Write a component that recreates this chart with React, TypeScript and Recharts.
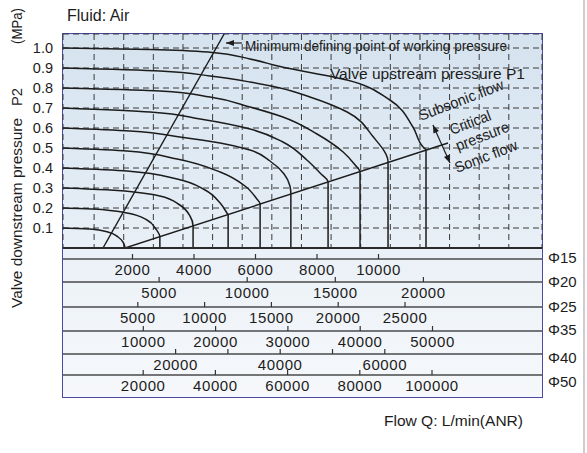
import React from 'react';
import { ComposedChart, Line, XAxis, YAxis, CartesianGrid, ReferenceLine, ReferenceDot } from 'recharts';

// flow on the Φ15 scale (L/min) vs downstream pressure P2 (MPa), one curve per upstream pressure P1
const Q15_MIN = -260;
const Q15_MAX = 15317;
const MAIN_DOMAIN = [Q15_MIN, Q15_MAX];
const P2_DOMAIN = [0, 1.07];
const GRID_DOMAIN = [-0.05, 16.12];

const P1_LEVELS = [0.1, 0.2, 0.3, 0.4, 0.5, 0.6, 0.7, 0.8, 0.9, 1.0];

const curve01 = [[Q15_MIN, 0.1], [620, 0.095], [1200, 0.08], [1530, 0.055], [1690, 0.03], [1760, 0]];
const curve02 = [[Q15_MIN, 0.2], [720, 0.195], [1820, 0.175], [2470, 0.14], [2760, 0.095], [2890, 0.055], [2890, 0]];
const curve03 = [[Q15_MIN, 0.3], [1270, 0.29], [2890, 0.26], [3540, 0.215], [3870, 0.16], [3970, 0.11], [3970, 0]];
const curve04 = [[Q15_MIN, 0.4], [1820, 0.385], [3450, 0.345], [4360, 0.29], [4850, 0.225], [5070, 0.175], [5110, 0.165], [5110, 0]];
const curve05 = [[Q15_MIN, 0.5], [1820, 0.485], [3450, 0.445], [4850, 0.38], [5660, 0.31], [6020, 0.25], [6150, 0.22], [6150, 0]];
const curve06 = [[Q15_MIN, 0.6], [1920, 0.585], [3540, 0.555], [4850, 0.525], [5820, 0.49], [6470, 0.435], [6930, 0.37], [7120, 0.31], [7150, 0.27], [7150, 0]];
const curve07 = [[Q15_MIN, 0.7], [2570, 0.68], [4200, 0.645], [5820, 0.595], [6890, 0.53], [7670, 0.44], [8100, 0.375], [8360, 0.33], [8360, 0]];
const curve08 = [[Q15_MIN, 0.8], [2890, 0.785], [4520, 0.755], [5820, 0.705], [6890, 0.655], [8000, 0.57], [8850, 0.48], [9240, 0.415], [9400, 0.38], [9400, 0]];
const curve09 = [[Q15_MIN, 0.9], [2890, 0.885], [4520, 0.86], [5820, 0.83], [6800, 0.8], [7770, 0.755], [8980, 0.68], [9820, 0.557], [10310, 0.43], [10310, 0]];
const curve10 = [[Q15_MIN, 1.0], [2570, 0.993], [4520, 0.979], [5820, 0.945], [6800, 0.907], [8980, 0.84], [10370, 0.74], [11120, 0.605], [11450, 0.505], [11545, 0.49], [11545, 0]];
const CURVES = [curve01, curve02, curve03, curve04, curve05, curve06, curve07, curve08, curve09, curve10];

const minimumLine = [[1040, 0], [4980, 1.07]];
const criticalLine = [[1760, 0], [12260, 0.525]];

const P2_TICKS = [0.1, 0.2, 0.3, 0.4, 0.5, 0.6, 0.7, 0.8, 0.9, 1.0];
const GRID_TICKS = [1, 2, 3, 4, 5, 6, 7, 8, 9, 10, 11, 12, 13, 14, 15];

// flow scales for each port size
const d15Ticks = [2000, 4000, 6000, 8000, 10000];
const d20Ticks = [5000, 10000, 15000, 20000];
const d25Ticks = [5000, 10000, 15000, 20000, 25000];
const d35Ticks = [10000, 20000, 30000, 40000, 50000];
const d40Ticks = [20000, 30000, 40000, 50000, 60000];
const d40Labels = [20000, 40000, 60000];
const d50Ticks = [20000, 40000, 60000, 80000, 100000];

const SCALES = [
  { id: 'b15', name: 'Φ15', domain: [-260, 15317], ticks: d15Ticks, height: 23, dy: 3.5 },
  { id: 'b20', name: 'Φ20', domain: [-454, 26731], ticks: d20Ticks, height: 25, dy: 4.5 },
  { id: 'b25', name: 'Φ25', domain: [-599, 35254], ticks: d25Ticks, height: 24, dy: 4.5 },
  { id: 'b35', name: 'Φ35', domain: [-1107, 65145], ticks: d35Ticks, height: 23, dy: 3.5 },
  { id: 'b40', name: 'Φ40', domain: [-1530, 90057], ticks: d40Ticks, labels: d40Labels, height: 21, dy: 8.5 },
  { id: 'b50', name: 'Φ50', domain: [-2216, 130471], ticks: d50Ticks, height: 22, dy: 11.5 },
];

// one row per tick index so every axis has values of its own
const CHART_ROWS = GRID_TICKS.map((g, i) => {
  const row: Record<string, number> = { g };
  SCALES.forEach((s) => {
    if (i < s.ticks.length) row[s.id] = s.ticks[i];
  });
  return row;
});

const NOTES = [
  { text: 'Minimum defining point of working pressure', q: 5660, p: 0.985, rot: 0, len: 262 },
  { text: 'Valve upstream pressure P1', q: 8420, p: 0.845, rot: 0, len: 195 },
  { text: 'Subsonic flow', q: 11380, p: 0.635, rot: -21, len: 90 },
  { text: 'Critical', q: 12390, p: 0.565, rot: -21, len: 43 },
  { text: 'pressure', q: 12585, p: 0.485, rot: -21, len: 56 },
  { text: 'Sonic flow', q: 12553, p: 0.375, rot: -21, len: 66 },
];

const ARROWS = [
  { from: [5560, 1.025], to: [5040, 1.025], both: false },
  { from: [11770, 0.615], to: [12325, 0.425], both: true },
];

const FONT = '"Liberation Sans", Arial, sans-serif';
const INK = '#1c1c1c';
const MAIN_LINE = { stroke: '#2a2a2a', strokeWidth: 2 };
const ROW_LINE = { stroke: '#4a4a4a', strokeWidth: 1.3 };
const Y_TICK = { fontSize: 14.5, fill: INK, fontFamily: FONT };

const toPoints = (rows: number[][]) => rows.map(([q, p]) => ({ q, p }));

function makeFlowTick(labels?: number[]) {
  return (props: any) => {
    const { x, y, payload } = props;
    const show = !labels || labels.includes(payload.value);
    return (
      <g>
        <line x1={x} x2={x} y1={y} y2={y - 5} stroke="#333" strokeWidth={1.2} />
        {show && (
          <text x={x} y={y + 16} textAnchor="middle" fontSize={15} letterSpacing={0.6} fill={INK} fontFamily={FONT}>
            {payload.value}
          </text>
        )}
      </g>
    );
  };
}
const FLOW_TICKS = SCALES.map((s) => makeFlowTick(s.labels));
const fmtP2 = (v: number) => v.toFixed(1);

function RowLabel(props: any) {
  const { viewBox, text, shift, title } = props;
  const { x, y, width, height } = viewBox;
  return (
    <g fontFamily={FONT} fill={INK}>
      <text x={x + width + 6} y={y + shift} fontSize={15}>{text}</text>
      {title && <text x={384} y={y + height + 29} fontSize={15.5} textLength={139} lengthAdjust="spacingAndGlyphs">{title}</text>}
    </g>
  );
}

function AxisTitle(props: any) {
  const { viewBox } = props;
  const bx = viewBox.x + 21.5;
  const parts = [
    { t: 'Valve downstream pressure', y: 308, len: 190 },
    { t: 'P2', y: 106, len: 18 },
    { t: '(MPa)', y: 44, len: 36 },
  ];
  return (
    <g fontFamily={FONT} fill={INK} fontSize={15.5}>
      {parts.map((s) => (
        <text key={s.t} x={bx} y={s.y} transform={`rotate(-90 ${bx} ${s.y})`} textLength={s.len} lengthAdjust="spacingAndGlyphs">
          {s.t}
        </text>
      ))}
      <text x={67} y={21} fontSize={16}>Fluid: Air</text>
    </g>
  );
}

function NoteText(props: any) {
  const { viewBox, text, rot, len } = props;
  const { x, y } = viewBox;
  return (
    <text x={x} y={y} transform={`rotate(${rot} ${x} ${y})`} fontSize={15} fill={INK} fontFamily={FONT}
      textLength={len} lengthAdjust="spacingAndGlyphs">
      {text}
    </text>
  );
}

function ArrowShape(props: any) {
  const { x1, y1, x2, y2, both } = props;
  const head = (tx: number, ty: number, fx: number, fy: number) => {
    const dx = tx - fx;
    const dy = ty - fy;
    const l = Math.hypot(dx, dy) || 1;
    const ux = dx / l;
    const uy = dy / l;
    const bx = tx - ux * 8;
    const by = ty - uy * 8;
    return `${tx},${ty} ${bx - uy * 3},${by + ux * 3} ${bx + uy * 3},${by - ux * 3}`;
  };
  return (
    <g>
      <line x1={x1} y1={y1} x2={x2} y2={y2} stroke={INK} strokeWidth={1.2} />
      <polygon points={head(x2, y2, x1, y1)} fill={INK} />
      {both && <polygon points={head(x1, y1, x2, y2)} fill={INK} />}
    </g>
  );
}

export default function App() {
  return (
    <div style={{ position: 'absolute', left: 0, top: 0, width: 587, height: 453, background: '#fff', fontFamily: FONT }}>
      <div
        style={{
          position: 'absolute', left: 62, top: 33, width: 481, height: 365, boxSizing: 'border-box',
          border: '1.5px solid #4a4aa6',
          background: 'linear-gradient(to bottom, #d5e3ef 0%, #e3ecf5 45%, #eef3f8 70%, #f6f8fb 100%)',
        }}
      />
      <div style={{ position: 'absolute', left: 583, top: 0, width: 2, height: 453, background: '#cdcdcd' }} />
      <div style={{ position: 'absolute', left: 0, top: 0 }}>
        <ComposedChart width={587} height={453} data={CHART_ROWS} margin={{ top: 34, right: 45, bottom: 56, left: 0 }}>
          <XAxis
            xAxisId="a0" type="number" dataKey="q" domain={MAIN_DOMAIN} allowDataOverflow
            height={11} tick={false} tickLine={false} axisLine={MAIN_LINE}
          />
          {SCALES.map((s, i) => (
            <XAxis
              key={s.id} xAxisId={s.id} dataKey={s.id} type="number" domain={s.domain} ticks={s.ticks} allowDataOverflow
              height={s.height} interval={0} tickSize={0} tickMargin={0} tickLine={false}
              axisLine={ROW_LINE}
              tick={FLOW_TICKS[i]}
              label={<RowLabel text={s.name} shift={s.dy} title={s.id === 'b50' ? 'Flow Q: L/min(ANR)' : undefined} />}
            />
          ))}
          <XAxis xAxisId="grid" dataKey="g" type="number" domain={GRID_DOMAIN} ticks={GRID_TICKS} allowDataOverflow hide />
          <YAxis
            type="number" domain={P2_DOMAIN} ticks={P2_TICKS} allowDataOverflow width={63} interval={0}
            axisLine={false} tickLine={false} tickMargin={4}
            tickFormatter={fmtP2}
            tick={Y_TICK}
            label={<AxisTitle />}
          />
          <CartesianGrid xAxisId="grid" stroke="#3a3a3a" strokeDasharray="6 4" strokeWidth={1} />

          {CURVES.map((c, i) => (
            <Line
              key={P1_LEVELS[i]} xAxisId="a0" data={toPoints(c)} dataKey="p" type="monotoneY"
              stroke={INK} strokeWidth={1.5} dot={false} activeDot={false} isAnimationActive={false}
            />
          ))}
          <Line xAxisId="a0" data={toPoints(minimumLine)} dataKey="p" type="linear" stroke={INK} strokeWidth={1.4} dot={false} activeDot={false} isAnimationActive={false} />
          <Line xAxisId="a0" data={toPoints(criticalLine)} dataKey="p" type="linear" stroke={INK} strokeWidth={1.4} dot={false} activeDot={false} isAnimationActive={false} />

          {ARROWS.map((a, i) => (
            <ReferenceLine
              key={i} xAxisId="a0" ifOverflow="visible"
              segment={[{ x: a.from[0], y: a.from[1] }, { x: a.to[0], y: a.to[1] }]}
              shape={<ArrowShape both={a.both} />}
            />
          ))}
          {NOTES.map((n) => (
            <ReferenceDot
              key={n.text} xAxisId="a0" x={n.q} y={n.p} r={0} ifOverflow="visible" stroke="none" fill="none"
              label={<NoteText text={n.text} rot={n.rot} len={n.len} />}
            />
          ))}
        </ComposedChart>
      </div>
    </div>
  );
}
